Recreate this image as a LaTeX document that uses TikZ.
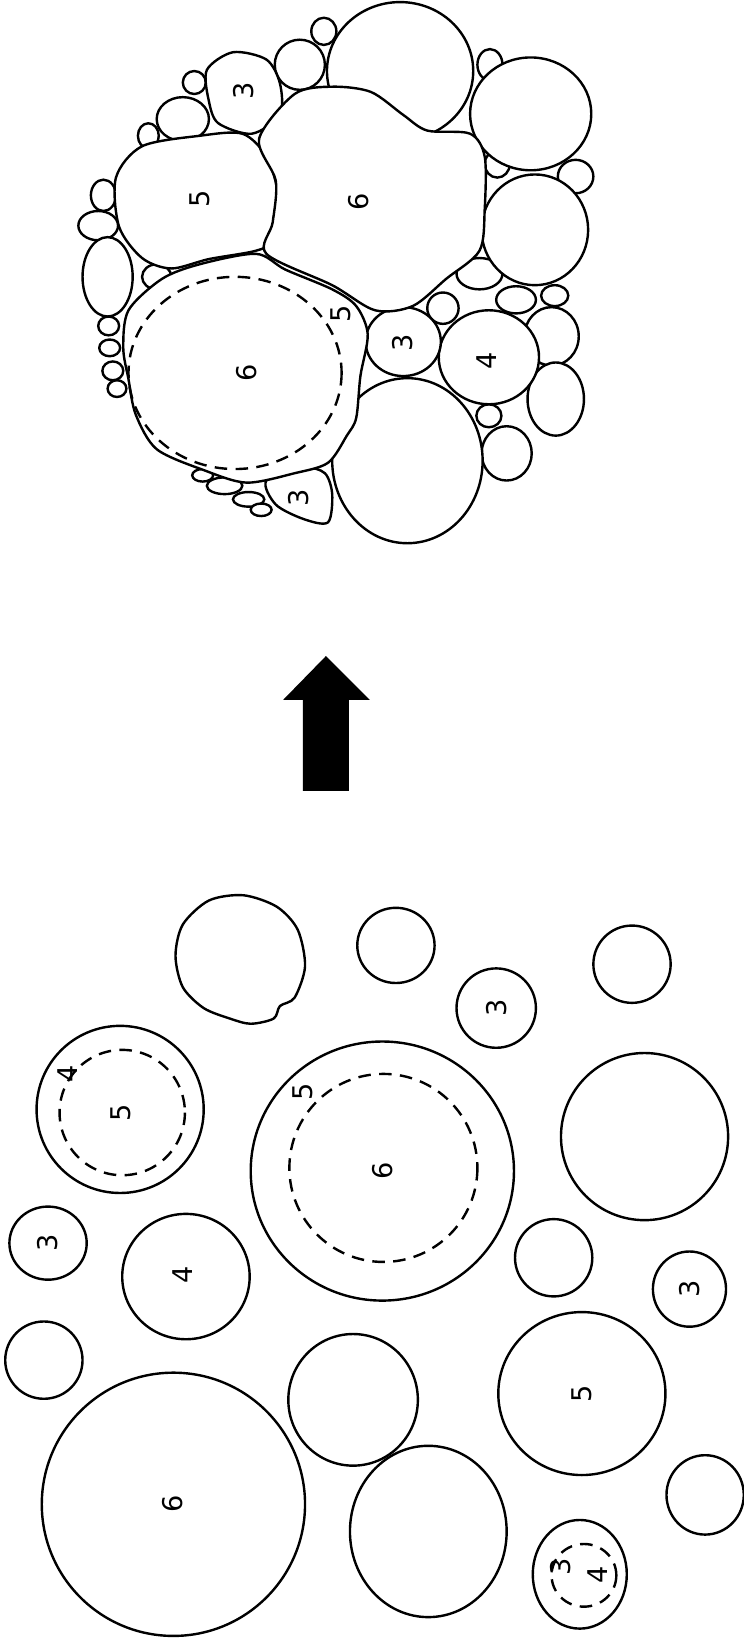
\documentclass[tikz,border=0pt]{standalone}
\usepackage{tikz}
\usepackage{fontspec}
\setsansfont{DejaVu Sans}
\usetikzlibrary{positioning}

\begin{document}
\begin{tikzpicture}[x=1pt,y=-1pt,
    grano/.style={draw=black,fill=white,line width=2.3pt},
    nucleo/.style={draw=black,line width=2.3pt,dash pattern=on 12pt off 8pt},
    cifra/.style={rotate=90,font=\sffamily\fontsize{26}{26}\selectfont,inner sep=0pt}]
  \useasboundingbox (0,0) rectangle (712,1568);
  % agregado final
  \foreach \x/\y/\a/\b in {310/30/12/13, 287/62/24/24, 186/79/11/11, 175/114/25/21,
      142/130/10/12, 99/187/12/15, 94/216/19/14, 103/265/24/38, 150/265/14/12,
      104/312/10/9, 105/333/10/8, 108/355/10/9, 112/372/9/8,
      194/455/10/6, 215/465/17/8, 238/478/15/7, 250/488/10/6,
      469/62/12/15, 476/157/12/13, 551/169/17/16,
      459/262/22/15, 494/287/19/13, 531/283/13/10, 424/295/15/15, 468/398/12/11}
    {\draw[grano] (\x,\y) ellipse [x radius=\a, y radius=\b];}
  \foreach \x/\y/\a/\b in {383/68/70/66, 508/109/58/54, 512/220/51/53, 528/322/26/28,
      532/382/27/35, 485/434/24/26, 390/441/72/79}
    {\draw[grano] (\x,\y) ellipse [x radius=\a, y radius=\b];}
  \draw[grano] (468,342) ellipse [x radius=48, y radius=45];
  \draw[grano] (386,327) ellipse [x radius=36, y radius=33];
  \draw[grano] plot[smooth cycle] coordinates {(198,67) (223,50) (255,57) (268,80)
      (268,110) (241,128) (209,118) (200,97)};
  \draw[grano] plot[smooth cycle] coordinates {(255,460) (291,448) (311,453) (318,473)
      (314,500) (291,497) (264,483)};
  \draw[grano] plot[smooth cycle] coordinates {(111,170) (136,140) (191,130) (232,128)
      (255,150) (266,187) (259,230) (245,240) (200,248) (164,257) (136,247) (114,217)};
  \draw[grano] plot[smooth cycle] coordinates {(248,133) (282,90) (318,83) (355,88)
      (386,110) (409,125) (450,128) (464,150) (464,200) (459,240) (427,267) (395,293)
      (359,297) (318,273) (255,243) (261,213) (264,173)};
  \draw[grano] plot[smooth cycle] coordinates {(123,297) (155,267) (191,253) (245,243)
      (273,258) (318,277) (341,293) (352,320) (345,360) (341,400) (332,417) (314,443)
      (282,453) (236,462) (195,450) (150,430) (130,397) (123,363) (118,333)};
  \draw[nucleo] (225,357) ellipse [x radius=102, y radius=92];
  \node[cifra] (a3t) at (233,87) {3};
  \node[cifra] (a5) at (191,190) {5};
  \node[cifra] (a6s) at (343,193) {6};
  \node[cifra] (a6i) at (236,357) {6};
  \node[cifra] (a5i) at (326,300) {5};
  \node[cifra] (a3m) at (385,328) {3};
  \node[cifra] (a4) at (466,345) {4};
  \node[cifra] (a3b) at (286,477) {3};
  % flecha
  \fill[black] (312,628) -- (354,670) -- (334,670) -- (334,757) -- (290,757)
      -- (290,670) -- (271,670) -- cycle;
  % particulas sueltas
  \draw[grano] plot[smooth cycle] coordinates {(168,915) (175,885) (200,862) (233,857)
      (265,868) (285,890) (292,925) (282,955) (268,963) (262,975) (240,980) (220,975)
      (195,965) (175,945)};
  \foreach \x/\y/\a/\b in {379/905/37/36, 475/965/38/38, 605/923/37/37, 115/1062/80/80,
      366/1121/126/124, 617/1088/80/80, 46/1190/37/35, 178/1222/61/60, 530/1204/37/37,
      660/1234/35/36, 42/1302/37/37, 338/1340/62/63, 557/1334/80/78, 166/1440/126/126,
      410/1466/75/82, 675/1431/37/38, 555/1507/45/52}
    {\draw[grano] (\x,\y) ellipse [x radius=\a, y radius=\b];}
  \draw[nucleo] (117,1065) circle (60);
  \draw[nucleo] (367,1118) circle (90);
  \draw[nucleo] (559,1508) ellipse [x radius=31, y radius=30];
  \node[cifra] (b3a) at (475,965) {3};
  \node[cifra] (b4a) at (65,1028) {4};
  \node[cifra] (b5a) at (116,1065) {5};
  \node[cifra] (b5b) at (290,1045) {5};
  \node[cifra] (b6b) at (366,1121) {6};
  \node[cifra] (b3c) at (46,1190) {3};
  \node[cifra] (b4d) at (175,1220) {4};
  \node[cifra] (b3e) at (660,1234) {3};
  \node[cifra] (b5f) at (557,1334) {5};
  \node[cifra] (b6g) at (165,1440) {6};
  \node[cifra] (b3h) at (537,1500) {3};
  \node[cifra] (b4h) at (572,1508) {4};
\end{tikzpicture}
\end{document}
